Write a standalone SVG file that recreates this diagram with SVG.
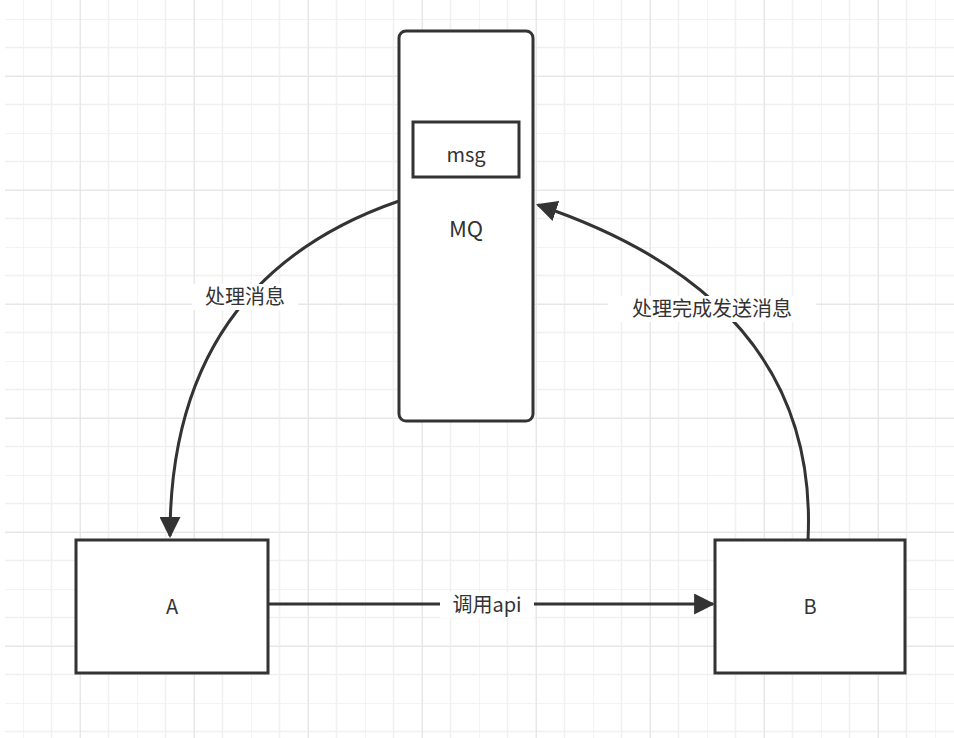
<svg xmlns="http://www.w3.org/2000/svg" width="954" height="738" viewBox="0 0 954 738">
<defs>
<pattern id="g" x="23" y="19" width="114" height="114" patternUnits="userSpaceOnUse">
<path d="M0 0V114M28.5 0V114M57 0V114M85.5 0V114M0 0H114M0 28.5H114M0 57H114M0 85.5H114" stroke="#f0f0f0" stroke-width="1.5" fill="none"/>
</pattern>
<pattern id="G" x="80" y="76" width="114" height="114" patternUnits="userSpaceOnUse">
<path d="M0 0V114M0 0H114" stroke="#e4e4e4" stroke-width="1.5" fill="none"/>
</pattern>
<marker id="ah" viewBox="0 0 10 10" refX="9" refY="5" markerWidth="7" markerHeight="7" orient="auto" markerUnits="strokeWidth">
<path d="M0 0L10 5L0 10Z" fill="#333"/>
</marker>
<style>
.n{fill:#fff;stroke:#333;stroke-width:3}
.t{font-family:"Noto Sans CJK SC","Liberation Sans",sans-serif;font-size:20px;fill:#333;text-anchor:middle}
.c{fill:none;stroke:#333;stroke-width:3}
.lb{fill:#fff}
</style>
</defs>
<rect width="954" height="738" fill="#fff"/>
<rect x="5" y="0" width="949" height="738" fill="url(#g)"/>
<rect x="5" y="0" width="949" height="738" fill="url(#G)"/>
<g id="connectors">
<path class="c" d="M399 201 Q170 280 170 536" marker-end="url(#ah)"/>
<path class="c" d="M808 540 Q820 300 538 205" marker-end="url(#ah)"/>
<path class="c" d="M268 604 H713" marker-end="url(#ah)"/>
<rect class="lb" x="192" y="284" width="106" height="26"/>
<text class="t" x="245" y="304">处理消息</text>
<rect class="lb" x="608" y="296" width="208" height="26"/>
<text class="t" x="712" y="316">处理完成发送消息</text>
<rect class="lb" x="440" y="592" width="94" height="26"/>
<text class="t" x="487" y="612">调用api</text>
</g>
<g id="MQ">
<rect class="n" x="399" y="31" width="134" height="390" rx="7"/>
<text class="t" x="466" y="237" style="font-size:22px">MQ</text>
</g>
<g id="msg">
<rect class="n" x="413" y="122" width="106" height="55"/>
<text class="t" x="466" y="162">msg</text>
</g>
<g id="A">
<rect class="n" x="76" y="540" width="192" height="133"/>
<text class="t" x="172" y="614">A</text>
</g>
<g id="B">
<rect class="n" x="715" y="540" width="190" height="133"/>
<text class="t" x="810" y="614">B</text>
</g>
</svg>
